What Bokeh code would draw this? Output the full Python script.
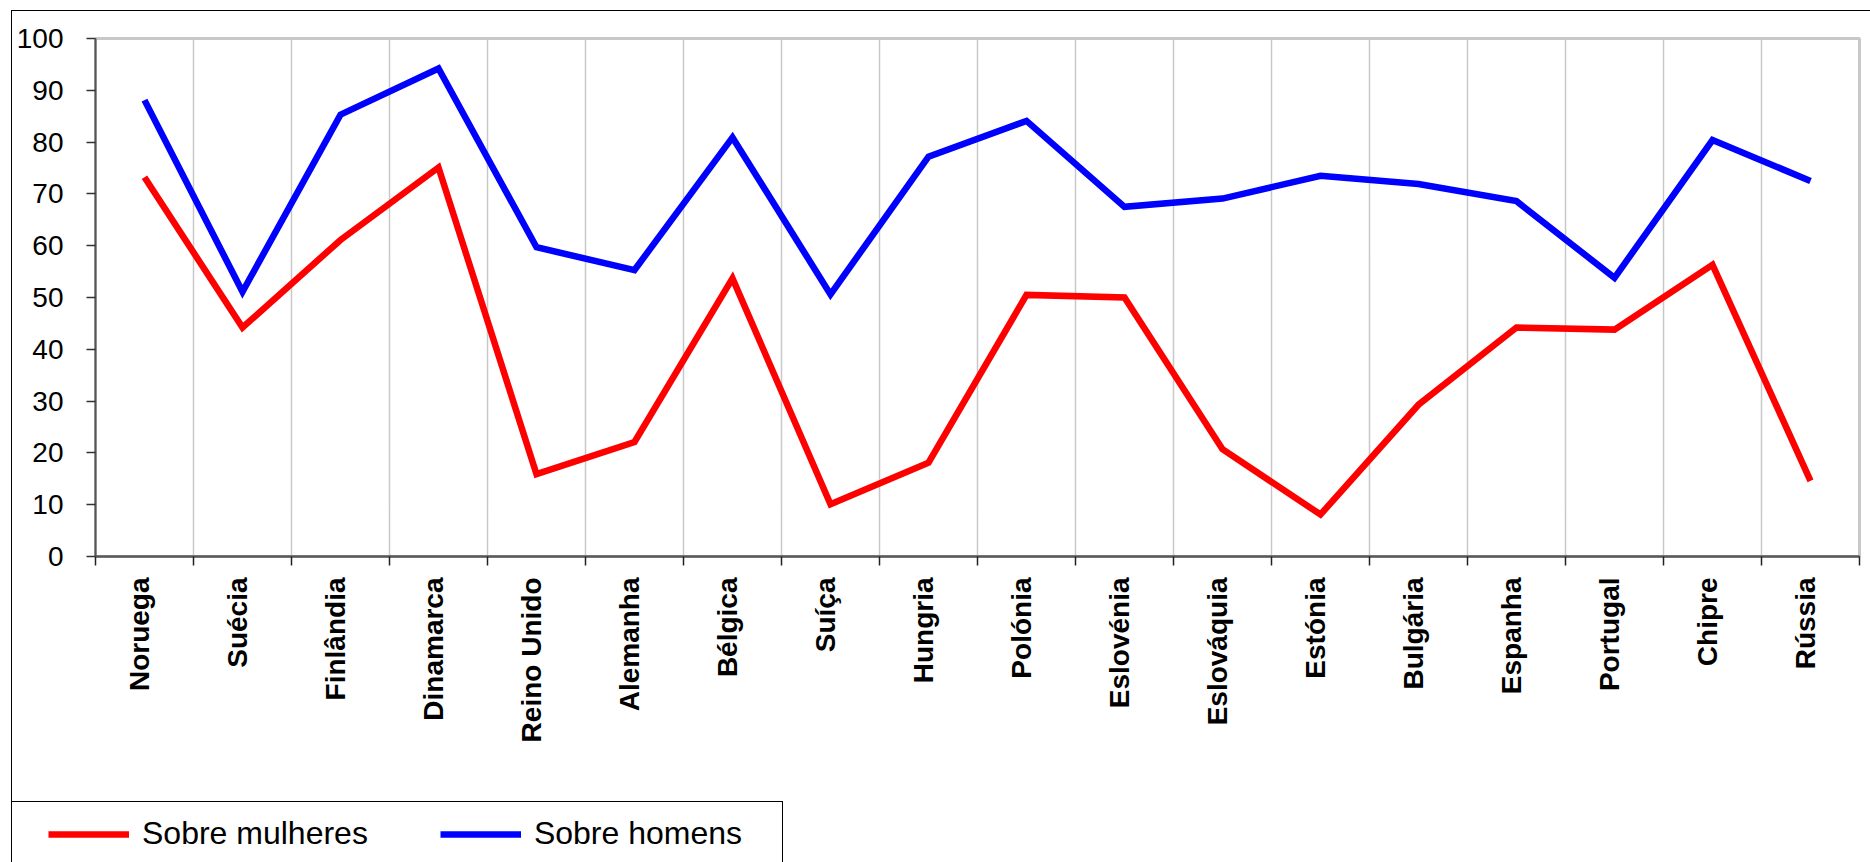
import math
from bokeh.plotting import figure
from bokeh.layouts import column
from bokeh.models import (Range1d, FixedTicker, CustomJSTickFormatter, Legend, LegendItem)
from bokeh.embed import file_html
from bokeh.resources import INLINE

countries = ["Noruega", "Suécia", "Finlândia", "Dinamarca", "Reino Unido", "Alemanha",
             "Bélgica", "Suíça", "Hungria", "Polónia", "Eslovénia", "Eslováquia",
             "Estónia", "Bulgária", "Espanha", "Portugal", "Chipre", "Rússia"]
sobre_mulheres = [73.2, 44.2, 61.1, 75.1, 15.9, 22.1, 53.7, 10.1, 18.1, 50.5, 50.0, 20.7,
                  8.1, 29.3, 44.2, 43.8, 56.3, 14.6]
sobre_homens = [88.1, 51.1, 85.3, 94.2, 59.7, 55.3, 80.9, 50.6, 77.2, 84.1, 67.5, 69.1,
                73.5, 71.9, 68.6, 53.8, 80.4, 72.5]
y_ticks = [0, 10, 20, 30, 40, 50, 60, 70, 80, 90, 100]
series_names = ["Sobre mulheres", "Sobre homens"]
series_colors = ["#ff0000", "#0000ff"]

n = len(countries)
xs = [i + 0.5 for i in range(n)]

FONT = "Liberation Sans"
LW = 6.5
LABEL_NUDGE = -0.05  # small optical shift of the rotated category labels

# ---------------- main chart ----------------
p = figure(width=1858, height=790, output_backend="svg", toolbar_location=None,
           x_range=Range1d(0, n), y_range=Range1d(0, 100))
p.frame_align = False
p.min_border_left = 83
p.min_border_right = 11
p.min_border_top = 27
p.min_border_bottom = 245
p.background_fill_color = "white"
p.border_fill_color = "white"
p.outline_line_color = "#c8c8c8"
p.outline_line_width = 3

r_m = p.line(xs, sobre_mulheres, line_color=series_colors[0], line_width=LW, line_join="miter")
r_h = p.line(xs, sobre_homens, line_color=series_colors[1], line_width=LW, line_join="miter")

ya = p.yaxis[0]
ya.ticker = FixedTicker(ticks=y_ticks)
ya.axis_line_color = "#555555"
ya.axis_line_width = 2
ya.major_tick_in = 0
ya.major_tick_out = 9
ya.major_tick_line_color = "#333333"
ya.major_tick_line_width = 1.5
ya.minor_tick_line_color = None
ya.major_label_standoff = 23
ya.major_label_text_font = FONT
ya.major_label_text_font_size = "28px"
ya.major_label_text_color = "black"

xa = p.xaxis[0]
xa.ticker = FixedTicker(ticks=[x + LABEL_NUDGE for x in xs], minor_ticks=list(range(n + 1)))
xa.formatter = CustomJSTickFormatter(args=dict(names=countries),
                                     code="return names[Math.floor(tick)] || ''")
xa.axis_line_color = "#5a5a5a"
xa.axis_line_width = 2.5
xa.major_tick_in = 0
xa.major_tick_out = 0
xa.minor_tick_in = 0
xa.minor_tick_out = 9
xa.minor_tick_line_color = "#222222"
xa.minor_tick_line_width = 1.5
xa.major_label_orientation = math.pi / 2
xa.major_label_standoff = 12
xa.major_label_text_font = FONT
xa.major_label_text_font_style = "bold"
xa.major_label_text_font_size = "28px"
xa.major_label_text_color = "black"

p.xgrid.ticker = FixedTicker(ticks=list(range(1, n)))
p.xgrid.grid_line_color = "#c8c8c8"
p.xgrid.grid_line_width = 1.5
p.ygrid.grid_line_color = None

# ---------------- legend box ----------------
lf = figure(width=771, height=61, output_backend="svg", toolbar_location=None,
            x_range=Range1d(-10, -5), y_range=Range1d(-10, -5),
            x_axis_location=None, y_axis_location=None,
            styles={"border-top": "1.5px solid black", "border-right": "1.5px solid black"})
lf.frame_align = False
lf.min_border = 0
lf.min_border_left = 0
lf.min_border_right = 0
lf.min_border_top = 0
lf.min_border_bottom = 0
lf.outline_line_color = None
lf.xgrid.grid_line_color = None
lf.ygrid.grid_line_color = None
lf.background_fill_color = "white"
lf.border_fill_color = "white"
lr_m = lf.line(xs, sobre_mulheres, line_color=series_colors[0], line_width=LW)
lr_h = lf.line(xs, sobre_homens, line_color=series_colors[1], line_width=LW)

legend = Legend(items=[LegendItem(label=series_names[0], renderers=[lr_m]),
                       LegendItem(label=series_names[1], renderers=[lr_h])],
                orientation="horizontal", location=(36, 11), padding=0, margin=0,
                spacing=72, label_standoff=13, glyph_width=81, glyph_height=20,
                label_text_font=FONT, label_text_font_size="32px",
                label_text_color="black",
                border_line_alpha=0, background_fill_alpha=0)
lf.add_layout(legend)

layout = column(p, lf, spacing=0, margin=(10, 0, 0, 11),
                styles={"border-top": "1.5px solid black", "border-left": "1.5px solid black",
                        "background-color": "white"})

open("out.html", "w").write(file_html(layout, INLINE))
